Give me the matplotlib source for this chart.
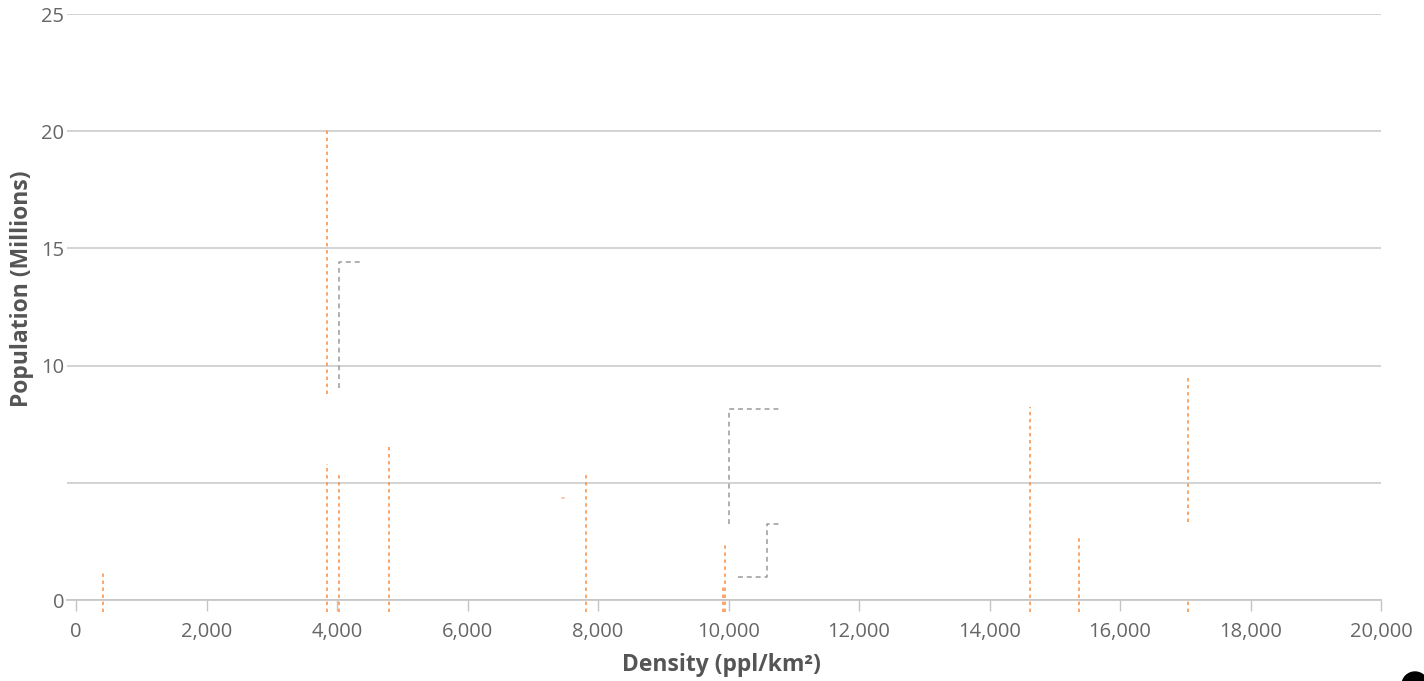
import matplotlib
matplotlib.use("Agg")
import matplotlib.pyplot as plt
from matplotlib.patches import Circle

# DATA
# orange dashed vertical segments: x, bottom, top
orange_x = [418, 3842, 3842, 4026, 4802, 7816, 9911, 9951, 14626, 15376, 17037, 17037]
orange_lo = [-0.5, 8.77, -0.5, -0.5, -0.5, -0.5, -0.5, -0.5, -0.5, -0.5, 3.31, -0.5]
orange_hi = [1.24, 20.19, 5.79, 5.32, 6.67, 5.46, 0.66, 2.35, 8.22, 2.65, 9.58, 0.0]

# tiny orange stub
stub_x = [7445, 7475]
stub_y = [4.34, 4.34]

# grey dashed step lines
grey_a_x = [4031, 4031, 4352]
grey_a_y = [9.06, 14.43, 14.43]
grey_b_x = [10012, 10012, 10815]
grey_b_y = [3.23, 8.13, 8.13]
grey_c_x = [10145, 10595, 10595, 10815]
grey_c_y = [0.96, 0.96, 3.23, 3.23]

x_ticks = list(range(0, 20001, 2000))
y_ticks = [0, 5, 10, 15, 20, 25]
y_tick_labels = ['0', '', '10', '15', '20', '25']

ORANGE = '#f98b40'
GREY = '#9a9a9a'

plt.rcParams['font.family'] = ['Open Sans', 'DejaVu Sans']

W, H = 1424, 681
fig = plt.figure(figsize=(W / 100, H / 100), dpi=100)
ax = fig.add_axes([67 / W, (H - 600) / H, (1381 - 67) / W, (600 - 14) / H])

ax.vlines(orange_x, orange_lo, orange_hi, colors=ORANGE, linewidth=1.1,
          linestyles=(0, (2.2, 2.4)), clip_on=False, zorder=3)
ax.plot(stub_x, stub_y, color=ORANGE, linewidth=1.1, alpha=0.6, zorder=3)

for xs, ys in [(grey_a_x, grey_a_y), (grey_b_x, grey_b_y), (grey_c_x, grey_c_y)]:
    ax.plot(xs, ys, color=GREY, linewidth=1.1, dashes=(3.2, 2.6), zorder=3)

ax.set_xlim(-138, 20000)
ax.set_ylim(0, 25)

ax.set_xticks(x_ticks)
ax.set_xticklabels([f'{v:,}' for v in x_ticks])
ax.set_yticks(y_ticks)
ax.set_yticklabels(y_tick_labels)

ax.tick_params(axis='x', length=8, width=1, color='#c4c4c4', pad=7.5,
               labelsize=14.5, labelcolor='#666666')
ax.tick_params(axis='y', length=0, pad=2, labelsize=14.5, labelcolor='#666666')

ax.grid(axis='y', color='#cccccc', linewidth=1.2)
ax.set_axisbelow(True)
for side in ['top', 'right', 'left']:
    ax.spines[side].set_visible(False)
ax.spines['bottom'].set_color('#c4c4c4')
ax.spines['bottom'].set_linewidth(1.2)

ax.set_xlabel('Density (ppl/km²)', fontsize=16.5, fontweight='bold', color='#555555')
ax.set_ylabel('Population (Millions)', fontsize=16.5, fontweight='bold', color='#555555')
ax.xaxis.set_label_coords(0.4977, -0.111)
ax.xaxis.label.set_va('center')
ax.yaxis.set_label_coords(-0.0342, 0.531)
ax.yaxis.label.set_va('center')

# clipped logo in the corner
fig.patches.append(Circle((1415, -4), 13, transform=None, color='black'))

fig.savefig('out.png', dpi=100)
